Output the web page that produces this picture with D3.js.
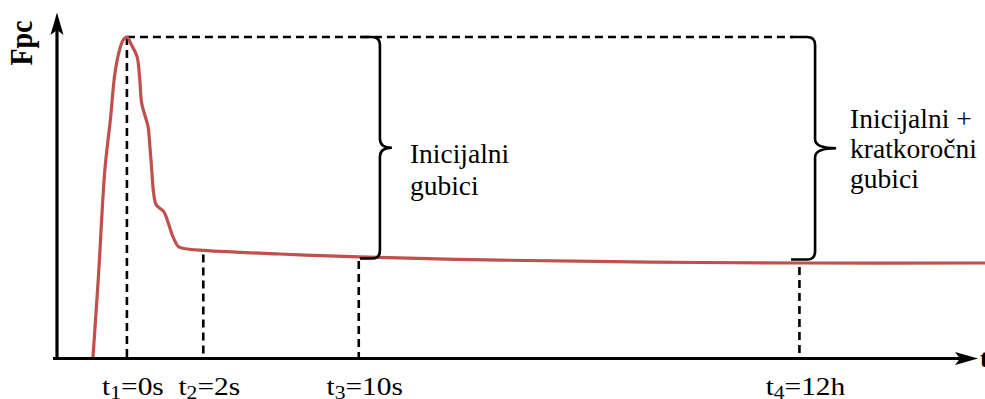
<!DOCTYPE html>
<html>
<head>
<meta charset="utf-8">
<script src="https://cdn.jsdelivr.net/npm/d3@7"></script>
<style>
  body { margin: 0; background: #fff; }
  svg { display: block; }
  text { font-family: "Liberation Serif", "Times New Roman", serif; fill: #000; }
</style>
</head>
<body>
<script>
// schematic: prestressing force Fpc over time (relative units, 0..100)
var curveT = [3.9, 4.5, 5.2, 5.8, 6.3, 6.8, 7.2, 7.6, 8.1, 8.7, 9.0, 9.2, 9.6, 9.9, 10.1,
  10.3, 10.5, 10.8, 11.6, 12.1, 12.6, 13.2, 13.7, 15.5, 24.2, 32.8, 48.2, 64.5, 80.7, 100.9];
var curveF = [0, 25.3, 58.6, 74.2, 88.8, 96.0, 99.1, 100, 97.5, 93.9, 86.6, 79.5, 75.2, 72.1, 65.9,
  58.6, 51.5, 47.7, 45.7, 42.1, 37.9, 34.8, 34.3, 33.7, 32.5, 31.6, 30.6, 30.0, 29.7, 29.7];

var markerT = [7.6, 15.9, 32.8, 80.7];
var markerF = [100, 33.6, 31.6, 29.7];
var markerSub = ["1", "2", "3", "4"];
var markerText = ["=0s", "=2s", "=10s", "=12h"];

var braceT = [35.1, 82.4];
var braceTop = [100, 100];
var braceBottom = [31.1, 30.8];
var braceLabels = [["Inicijalni", "gubici"], ["Inicijalni +", "kratkoročni", "gubici"]];

var w = 985, h = 399;

var svg = d3.select("body").append("svg")
  .attr("width", w)
  .attr("height", h);

var x = d3.scaleLinear().domain([0, 100]).range([57, 977]);
var y = d3.scaleLinear().domain([0, 100]).range([358.5, 37]);

// dashed helper lines
var dash = svg.append("g")
  .attr("stroke", "#000")
  .attr("stroke-width", 2.6)
  .attr("stroke-dasharray", "8,5")
  .attr("fill", "none");

dash.selectAll("line.v")
  .data(markerT)
  .enter()
  .append("line")
  .attr("class", "v")
  .attr("x1", function(d){ return x(d); })
  .attr("x2", function(d){ return x(d); })
  .attr("y1", function(d, i){ return y(markerF[i]) + (i ? 4 : 0); })
  .attr("y2", y(0));

dash.append("line")
  .attr("x1", x(markerT[0]))
  .attr("x2", x(braceT[1]) - 22)
  .attr("y1", y(100))
  .attr("y2", y(100));

// the curve
var line = d3.line()
  .x(function(d){ return x(d[0]); })
  .y(function(d){ return y(d[1]); })
  .curve(d3.curveCatmullRom.alpha(0.5));

svg.append("path")
  .datum(d3.zip(curveT, curveF))
  .attr("d", line)
  .attr("fill", "none")
  .attr("stroke", "#c0504d")
  .attr("stroke-width", 3.2)
  .attr("stroke-linejoin", "round");

// axes
var x0 = x.range()[0], x1 = x.range()[1], y0 = y(0);
svg.append("line")
  .attr("x1", x0 - 4).attr("x2", x1 - 8)
  .attr("y1", y0).attr("y2", y0)
  .attr("stroke", "#000").attr("stroke-width", 3.2);
svg.append("line")
  .attr("x1", x0).attr("x2", x0)
  .attr("y1", y0 + 1.5).attr("y2", 25)
  .attr("stroke", "#000").attr("stroke-width", 3.2);

// arrow heads
svg.append("path")
  .attr("d", "M" + (x1 + 1) + "," + y0 + " L" + (x1 - 22) + "," + (y0 - 6.5) +
    " L" + (x1 - 17) + "," + y0 + " L" + (x1 - 22) + "," + (y0 + 6.5) + " Z")
  .attr("fill", "#000");
svg.append("path")
  .attr("d", "M" + x0 + ",12.5 L" + (x0 - 6.5) + ",35 L" + x0 + ",30 L" + (x0 + 6.5) + ",35 Z")
  .attr("fill", "#000");

svg.append("text")
  .attr("x", x1 + 3)
  .attr("y", y0 + 8)
  .attr("font-size", 25)
  .attr("font-weight", "bold")
  .text("t");

svg.append("text")
  .attr("transform", "translate(32,43) rotate(-90) scale(1,1.12)")
  .attr("text-anchor", "middle")
  .attr("font-size", 28)
  .attr("font-weight", "bold")
  .text("Fpc");

// tick labels t1..t4
var ticks = svg.selectAll("text.tick")
  .data(markerT)
  .enter()
  .append("text")
  .attr("class", "tick")
  .attr("text-anchor", "middle")
  .attr("font-size", 24.5)
  .attr("transform", function(d){
    return "translate(" + (x(d) + 6) + "," + 394.5 + ") scale(1.2,1)";
  });
ticks.append("tspan").text("t");
ticks.append("tspan")
  .attr("font-size", 18)
  .attr("dy", 4)
  .text(function(d, i){ return markerSub[i]; });
ticks.append("tspan")
  .attr("dy", -4)
  .text(function(d, i){ return markerText[i]; });

// braces
var brace = function(t, fTop, fBot, hook, tip) {
  var bx = x(t), top = y(fTop), bot = y(fBot), mid = (top + bot) / 2, r = 8;
  return "M" + (bx - hook) + "," + top +
    " L" + (bx - r) + "," + top +
    " Q" + bx + "," + top + " " + bx + "," + (top + r) +
    " L" + bx + "," + (mid - 9) +
    " Q" + bx + "," + mid + " " + (bx + tip) + "," + mid +
    " Q" + bx + "," + mid + " " + bx + "," + (mid + 9) +
    " L" + bx + "," + (bot - r) +
    " Q" + bx + "," + bot + " " + (bx - r) + "," + bot +
    " L" + (bx - hook) + "," + bot;
};

var hooks = [20, 24], tips = [12, 21];
svg.selectAll("path.brace")
  .data(braceT)
  .enter()
  .append("path")
  .attr("class", "brace")
  .attr("d", function(d, i){ return brace(d, braceTop[i], braceBottom[i], hooks[i], tips[i]); })
  .attr("fill", "none")
  .attr("stroke", "#000")
  .attr("stroke-width", 2.6);

// brace labels
var labelDx = [30, 35], labelDy = [15.5, -20], lh = [32, 30];
braceLabels.forEach(function(lines, i){
  var mid = (y(braceTop[i]) + y(braceBottom[i])) / 2;
  var txt = svg.append("text")
    .attr("font-size", 27.5)
    .attr("x", x(braceT[i]) + labelDx[i])
    .attr("y", mid + labelDy[i]);
  lines.forEach(function(s, j){
    txt.append("tspan")
      .attr("x", x(braceT[i]) + labelDx[i])
      .attr("dy", j ? lh[i] : 0)
      .text(s);
  });
});
</script>
</body>
</html>
